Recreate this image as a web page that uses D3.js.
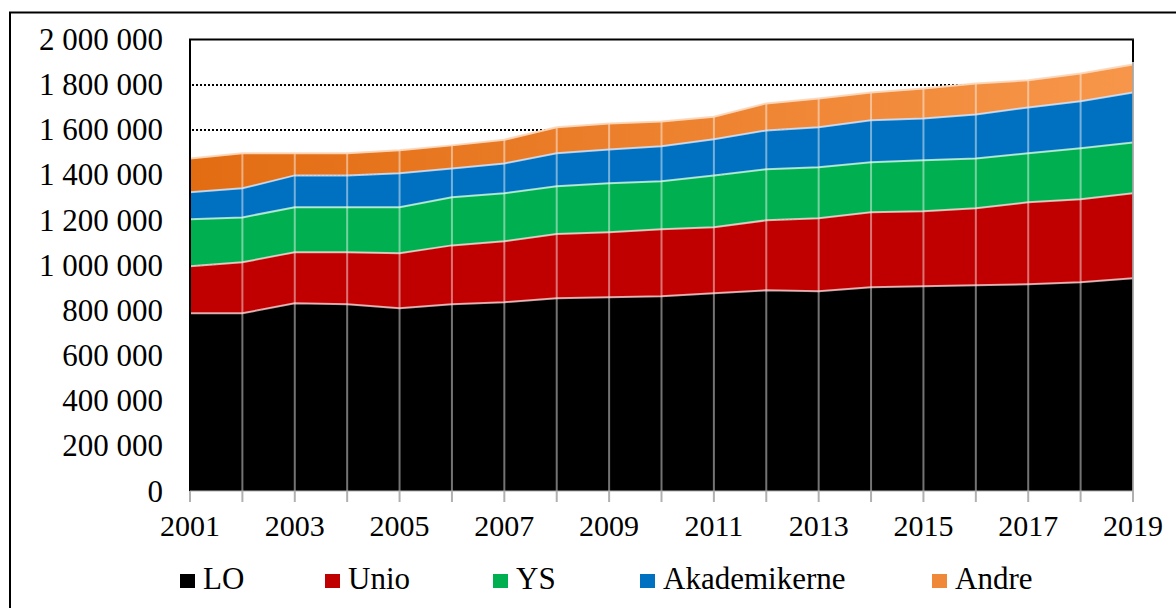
<!DOCTYPE html>
<html><head><meta charset="utf-8">
<script src="https://cdn.jsdelivr.net/npm/d3@7"></script>
<style>
html,body{margin:0;padding:0;background:#fff;}
svg text{font-family:"Liberation Serif","Times New Roman",serif;fill:#000;}
</style></head>
<body><svg id="chart" width="1176" height="608"></svg>
<script>
const years = [2001,2002,2003,2004,2005,2006,2007,2008,2009,2010,2011,2012,2013,2014,2015,2016,2017,2018,2019];
const LO    = [787000,787000,832000,827000,810000,827000,836000,854000,858000,863000,876000,889000,885000,903000,907000,911000,916000,925000,942000];
const Unio  = [209000,226000,226000,231000,243000,261000,270000,284000,288000,296000,292000,310000,323000,332000,332000,341000,363000,367000,377000];
const YS    = [208000,199000,199000,199000,204000,213000,213000,212000,217000,213000,230000,226000,226000,221000,226000,221000,217000,226000,225000];
const Akademikerne = [119000,129000,141000,141000,150000,128000,132000,146000,150000,155000,160000,172000,177000,186000,185000,195000,203000,208000,221000];
const Andre = [150000,155000,98000,98000,102000,102000,105000,115000,115000,110000,100000,120000,128000,123000,133000,137000,120000,123000,124000];
const seriesNames = ["LO","Unio","YS","Akademikerne","Andre"];
const yTicks = [0,200000,400000,600000,800000,1000000,1200000,1400000,1600000,1800000,2000000];
const xTickLabels = [2001,2003,2005,2007,2009,2011,2013,2015,2017,2019];
const colors = {LO:"#000000",Unio:"#C00000",YS:"#00B050",Akademikerne:"#0070C0",Andre:"url(#andreGrad)"};
const legendColors = {LO:"#000000",Unio:"#C00000",YS:"#00B050",Akademikerne:"#0070C0",Andre:"#F0883A"};

const svg = d3.select("#chart");
const L = 190, R = 1133, T = 39.5, B = 491;

// outer border
svg.append("rect").attr("x",10).attr("y",12.5).attr("width",1180).attr("height",620)
  .attr("fill","none").attr("stroke","#000").attr("stroke-width",2);

const defs = svg.append("defs");
const g = defs.append("linearGradient").attr("id","andreGrad").attr("x1","0%").attr("x2","100%").attr("y1","0").attr("y2","0");
g.append("stop").attr("offset","0%").attr("stop-color","#E26C12");
g.append("stop").attr("offset","100%").attr("stop-color","#F7964A");

const x = d3.scaleLinear().domain([years[0], years[years.length-1]]).range([L,R]);
const y = d3.scaleLinear().domain([0,2000000]).range([B,T]);

const data = years.map((yr,i)=>({year:yr, LO:LO[i], Unio:Unio[i], YS:YS[i], Akademikerne:Akademikerne[i], Andre:Andre[i]}));
const stack = d3.stack().keys(seriesNames)(data);

// dotted gridlines
svg.append("g").selectAll("line").data(yTicks.filter(t=>t>0 && t<2000000)).join("line")
  .attr("x1",L+2).attr("x2",R).attr("y1",d=>Math.round(y(d))).attr("y2",d=>Math.round(y(d)))
  .attr("stroke","#000").attr("stroke-width",2).attr("stroke-dasharray","2,2");

const area = d3.area().x(d=>x(d.data.year)).y0(d=>y(d[0])).y1(d=>y(d[1]));
const line = d3.line().x(d=>x(d.data.year)).y(d=>y(d[1]));

svg.append("g").selectAll("path").data(stack).join("path")
  .attr("d",area).attr("fill",d=>colors[d.key]);

// vertical year lines
svg.append("g").selectAll("line").data(years).join("line")
  .attr("x1",d=>x(d)).attr("x2",d=>x(d)).attr("y1",d=>y(stack[4][years.indexOf(d)][1])).attr("y2",B)
  .attr("stroke","rgba(255,255,255,0.45)").attr("stroke-width",2);

// edge strokes
const edgeCol = {LO:"rgba(255,220,220,0.75)",Unio:"rgba(255,225,225,0.75)",YS:"rgba(220,255,230,0.75)",Akademikerne:"rgba(210,230,255,0.8)",Andre:"rgba(252,215,185,0.95)"};
svg.append("g").selectAll("path").data(stack).join("path")
  .attr("d",line).attr("fill","none").attr("stroke",d=>edgeCol[d.key]).attr("stroke-width",2);

// x ticks below axis
svg.append("g").selectAll("line").data(years).join("line")
  .attr("x1",d=>x(d)).attr("x2",d=>x(d)).attr("y1",B).attr("y2",B+11)
  .attr("stroke","#b0b0b0").attr("stroke-width",2);

// plot borders
svg.append("line").attr("x1",L).attr("x2",L).attr("y1",T).attr("y2",B).attr("stroke","#000").attr("stroke-width",2);
svg.append("line").attr("x1",L-1).attr("x2",R+1).attr("y1",T).attr("y2",T).attr("stroke","#000").attr("stroke-width",2);
svg.append("line").attr("x1",R).attr("x2",R).attr("y1",T).attr("y2",B).attr("stroke","#999").attr("stroke-width",1.5);
svg.append("line").attr("x1",R).attr("x2",R).attr("y1",T).attr("y2",62).attr("stroke","#000").attr("stroke-width",2);
svg.append("line").attr("x1",L).attr("x2",R).attr("y1",B).attr("y2",B).attr("stroke","#b0b0b0").attr("stroke-width",1);

// y labels
const fmt = v => d3.format(",")(v).replace(/,/g," ");
svg.append("g").selectAll("text").data(yTicks).join("text")
  .attr("x",163).attr("y",d=>y(d)+10.5).attr("text-anchor","end")
  .attr("font-size",31).text(fmt);

// x labels
svg.append("g").selectAll("text").data(xTickLabels).join("text")
  .attr("x",d=>x(d)).attr("y",536).attr("text-anchor","middle")
  .attr("font-size",30).text(d=>d);

// legend
const legX = [180,325,493,640,932];
const lg = svg.append("g").selectAll("g").data(seriesNames).join("g")
  .attr("transform",(d,i)=>`translate(${legX[i]},0)`);
lg.append("rect").attr("x",0).attr("y",574).attr("width",15).attr("height",14).attr("fill",d=>legendColors[d]);
lg.append("text").attr("x",23).attr("y",589).attr("font-size",31).text(d=>d);
</script></body></html>
